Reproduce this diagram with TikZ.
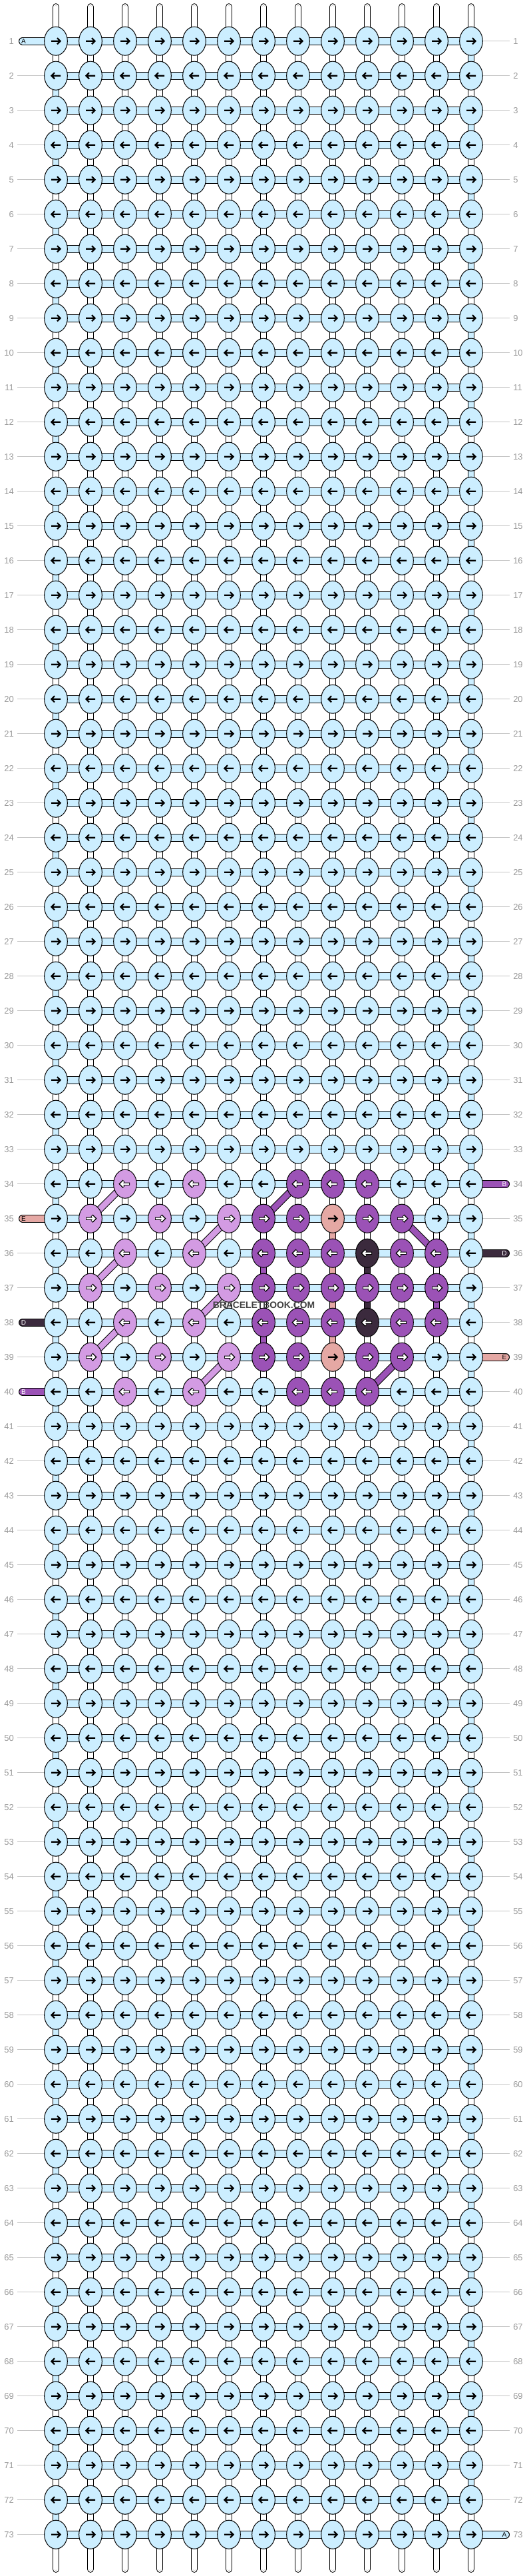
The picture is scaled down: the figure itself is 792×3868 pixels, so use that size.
\documentclass[tikz,border=0pt]{standalone}
\usepackage{fontspec}
\setmainfont{Liberation Sans}
\usetikzlibrary{shapes.geometric}

\definecolor{bl}{HTML}{CCEEFF}
\definecolor{lp}{HTML}{D39BE3}
\definecolor{dp}{HTML}{9B52B6}
\definecolor{pk}{HTML}{E5A8A4}
\definecolor{dk}{HTML}{3B2A3D}
\definecolor{warpgray}{HTML}{BBBBBB}
\definecolor{numgray}{HTML}{9A9A9A}
\definecolor{linegray}{HTML}{C4C4C4}

\pgfdeclarelayer{background}
\pgfsetlayers{background,main}

\def\nonecol{none}

% coloured knots: row/column/colour
\foreach \r/\c/\k in {34/3/lp,34/5/lp,34/8/dp,34/9/dp,34/10/dp,
  35/2/lp,35/4/lp,35/6/lp,35/7/dp,35/8/dp,35/9/pk,35/10/dp,35/11/dp,
  36/3/lp,36/5/lp,36/7/dp,36/8/dp,36/9/dp,36/10/dk,36/11/dp,36/12/dp,
  37/2/lp,37/4/lp,37/6/lp,37/7/dp,37/8/dp,37/9/dp,37/10/dp,37/11/dp,37/12/dp,
  38/3/lp,38/5/lp,38/7/dp,38/8/dp,38/9/dp,38/10/dk,38/11/dp,38/12/dp,
  39/2/lp,39/4/lp,39/6/lp,39/7/dp,39/8/dp,39/9/pk,39/10/dp,39/11/dp,
  40/3/lp,40/5/lp,40/8/dp,40/9/dp,40/10/dp}
  {\expandafter\xdef\csname kc-\r-\c\endcsname{\k}}
% coloured vertical strands (below row r, column c)
\foreach \r/\c/\k in {36/7/dp,38/7/dp,35/9/pk,36/9/pk,37/9/pk,38/9/pk,
  36/10/dk,37/10/dk,37/12/dp}
  {\expandafter\xdef\csname vc-\r-\c\endcsname{\k}}
% rows with a loose strand instead of a number line
\foreach \r in {1,35,38,40} {\expandafter\gdef\csname sl-\r\endcsname{}}
\foreach \r in {34,36,39,73} {\expandafter\gdef\csname sr-\r\endcsname{}}

\tikzset{
  knot/.style={ellipse, draw=black, line width=0.75pt, minimum width=26pt,
    minimum height=32.3pt, inner sep=0pt},
  tube/.style={draw=black, line width=0.75pt, double=#1, double distance=6.5pt},
  warp/.style={tube=white, postaction={draw=warpgray, line width=0.45pt,
    double=white, double distance=2.4pt}},
  rowno/.style={inner sep=0pt, text=numgray, font=\fontsize{9.7pt}{11pt}\selectfont},
  rowline/.style={draw=linegray, line width=0.75pt},
  tag/.style={inner sep=0pt, font=\fontsize{7.5pt}{8pt}\selectfont},
  knotarrow/.pic={
    \draw[arrow back] (-7,0) -- (6,0) (2,-4.6) -- (6.6,0) -- (2,4.6);
    \draw[arrow front] (-6.2,0) -- (5.6,0) (2.3,-3.7) -- (6,0) -- (2.3,3.7);
  },
  arr-bl/.style={arrow back/.style={black, line width=1.65pt},
    arrow front/.style={draw=none}},
  arr-pk/.style={arr-bl},
  arr-lp/.style={arrow back/.style={black, line width=3.2pt},
    arrow front/.style={white, line width=1.7pt}},
  arr-dp/.style={arr-lp},
  arr-dk/.style={arr-lp},
}

\begin{document}
\begin{tikzpicture}[x=0.75pt, y=-0.75pt]
\useasboundingbox (0,0) rectangle (792,3868);

% Knots
\foreach \r in {1,...,73}
  \foreach \c in {1,...,13} {
    \ifcsname kc-\r-\c\endcsname \edef\kcol{\csname kc-\r-\c\endcsname}\else \def\kcol{bl}\fi
    \ifodd\r \def\dir{1}\else \def\dir{-1}\fi
    \node[knot, fill=\kcol] (n-\r-\c) at ({84+52*(\c-1)}, {61.7+52*(\r-1)}) {};
    \pic[xscale=\dir, arr-\kcol] at (n-\r-\c) {knotarrow};
  }

\begin{pgfonlayer}{background}
\fill[white] (0,0) rectangle (792,3868);

% Vertical strands
\foreach \r [evaluate=\r as \rn using int(\r+1)] in {1,...,72}
  \foreach \c in {1,...,13} {
    \def\vcol{none}
    \ifnum\c=1 \ifodd\r\else\def\vcol{bl}\fi\fi
    \ifnum\c=13 \ifodd\r\def\vcol{bl}\fi\fi
    \ifcsname vc-\r-\c\endcsname \edef\vcol{\csname vc-\r-\c\endcsname}\fi
    \ifx\vcol\nonecol
      \draw[warp] (n-\r-\c.center) -- (n-\rn-\c.center);
    \else
      \draw[tube=\vcol] (n-\r-\c.center) -- (n-\rn-\c.center);
    \fi
  }

% Horizontal strands
\foreach \r in {1,...,73}
  \foreach \c in {2,...,13} {
    \pgfmathtruncatemacro\cprev{\c-1}
    \draw[tube=bl, double distance=7.5pt] (n-\r-\cprev.center) -- (n-\r-\c.center);
  }

% Diagonal strands
\foreach \a/\b in {35-2/34-3,36-3/37-2,35-6/36-5,37-6/38-5,38-3/39-2,39-6/40-5}
  \draw[tube=lp] (n-\a.center) -- (n-\b.center);
\foreach \a/\b in {35-7/34-8,35-11/36-12,39-11/40-10}
  \draw[tube=dp] (n-\a.center) -- (n-\b.center);

% Warp ends
\foreach \c in {1,...,13} {
  \coordinate (top-\c) at ({84+52*(\c-1)}, 10.4);
  \coordinate (bot-\c) at ({84+52*(\c-1)}, 3857.6);
  \draw[warp, line cap=round] (top-\c) -- (n-1-\c.center);
  \draw[warp, line cap=round] (n-73-\c.center) -- (bot-\c);
}

% Loose strands
\foreach \r/\k in {1/bl,35/pk,38/dk,40/dp} {
  \coordinate (in-\r) at (34, {61.7+52*(\r-1)});
  \draw[tube=\k, double distance=7.5pt, line cap=round] (in-\r) -- (n-\r-1.center);
}
\foreach \r/\k in {34/dp,36/dk,39/pk,73/bl} {
  \coordinate (out-\r) at (760, {61.7+52*(\r-1)});
  \draw[tube=\k, double distance=7.5pt, line cap=round] (n-\r-13.center) -- (out-\r);
}
\end{pgfonlayer}

% Strand letters
\foreach \r/\s/\t in {1/A/black,35/E/black,38/D/white,40/B/white}
  \node[tag, text=\t] (tag-l-\r) at (35.5, {61.7+52*(\r-1)}) {\s};
\foreach \r/\s/\t in {34/B/white,36/D/white,39/E/black,73/A/black}
  \node[tag, text=\t] (tag-r-\r) at (758, {61.7+52*(\r-1)}) {\s};

% Row numbers
\foreach \r in {1,...,73} {
  \node[rowno, anchor=east] (ln-\r) at (21, {61.7+52*(\r-1)}) {\r};
  \node[rowno, anchor=west] (rn-\r) at (771, {61.7+52*(\r-1)}) {\r};
  \ifcsname sl-\r\endcsname\else
    \draw[rowline, shorten <=3.75pt] (ln-\r.east) -- (n-\r-1.west);
  \fi
  \ifcsname sr-\r\endcsname\else
    \draw[rowline, shorten >=3.75pt] (n-\r-13.east) -- (rn-\r.west);
  \fi
}

% Watermark
\node[font=\bfseries\fontsize{10.4pt}{12pt}\selectfont, text=black!75, inner sep=0pt]
  (mark) at (396.5, 1959.5) {BRACELETBOOK.COM};
\end{tikzpicture}
\end{document}
